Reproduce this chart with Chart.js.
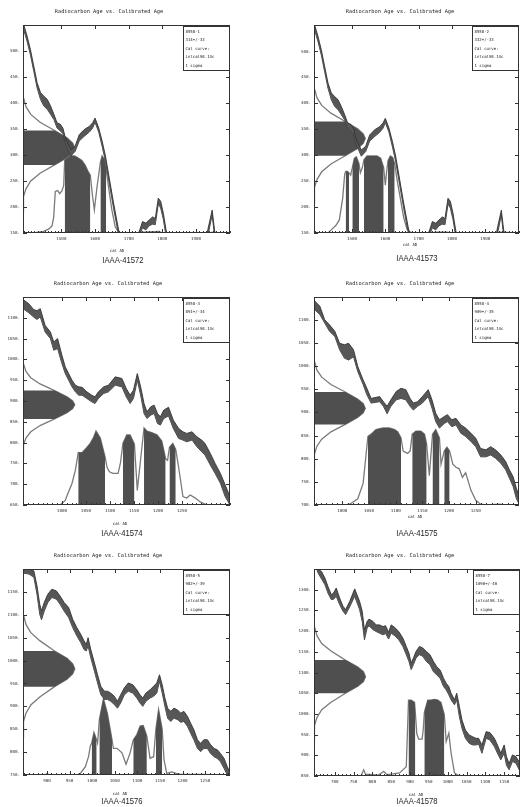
<!DOCTYPE html>
<html>
<head>
<meta charset="utf-8">
<script src="https://cdn.jsdelivr.net/npm/chart.js@4.4.1/dist/chart.umd.min.js"></script>
<style>
  html, body { margin: 0; padding: 0; background: #fff; width: 521px; height: 807px; overflow: hidden; }
  #sheet { position: relative; width: 521px; height: 807px; }
  #sheet canvas { position: absolute; }
  .lab {
    position: absolute; white-space: nowrap; color: #222;
    font: 9px 'Liberation Sans', Arial, sans-serif;
    transform: translate(-50%, -50%) scaleX(0.85);
  }
</style>
</head>
<body>
<div id="sheet"></div>
<script>
// ── DATA ───────────────────────────────────────────────────────────────────

const samples = ['8558-1', '8558-2', '8558-3', '8558-4', '8558-5', '8558-7'];
const ages    = ['314+/-33', '332+/-33', '891+/-34', '909+/-35', '982+/-39', '1090+/-40'];
const labIds  = ['IAAA-41572', 'IAAA-41573', 'IAAA-41574', 'IAAA-41575', 'IAAA-41576', 'IAAA-41578'];

// axis limits (cal AD / BP)
const xMins = [1386, 1386, 919, 947, 847, 645];
const xMaxs = [2001, 2001, 1350, 1331, 1305, 1192];
const yMins = [150, 150, 650, 700, 750, 850];
const yMaxs = [550, 551, 1150, 1149, 1200, 1350];

const xTicksA = [1500, 1600, 1700, 1800, 1900];
const xTicksB = [1000, 1050, 1100, 1150, 1200, 1250];
const xTicksC = [900, 950, 1000, 1050, 1100, 1150, 1200, 1250];
const xTicksD = [700, 750, 800, 850, 900, 950, 1000, 1050, 1100, 1150];
const yTicksA = [150, 200, 250, 300, 350, 400, 450, 500];
const yTicks3 = [650, 700, 750, 800, 850, 900, 950, 1000, 1050, 1100];
const yTicks4 = [700, 750, 800, 850, 900, 950, 1000, 1050, 1100];
const yTicks5 = [750, 800, 850, 900, 950, 1000, 1050, 1100, 1150];
const yTicks6 = [850, 900, 950, 1000, 1050, 1100, 1150, 1200, 1250, 1300];

// calibration curve band (upper / lower edge), panels 1 and 2 share this stretch
const calAX  = [1380,1388,1398,1408,1418,1428,1438,1448,1458,1468,1478,1487,1497,1505,1513,1528,1541,1553,1568,1583,1593,1600,1611,1621,1631,1643,1655,1668,1680,1705,1733,1741,1751,1761,1771,1779,1788,1795,1803,1811,1823,1925,1935,1948,1955,1968];
const calAHi = [575,551,529,503,471,439,420,413,407,394,378,362,359,351,330,310,317,339,349,355,362,371,352,327,298,253,208,163,125,110,156,172,169,175,181,178,217,211,188,156,120,110,156,194,156,110];
const calALo = [560,541,519,493,461,429,407,394,388,378,368,352,346,341,320,298,307,327,336,344,352,363,344,317,288,243,198,153,115,100,146,160,156,164,167,166,206,198,176,144,110,100,144,185,144,100];

const cal3X  = [915,919,931,941,948,955,965,976,983,991,1000,1007,1014,1021,1028,1035,1042,1052,1062,1069,1076,1087,1097,1111,1125,1134,1142,1149,1157,1164,1171,1177,1185,1192,1199,1205,1212,1222,1232,1243,1252,1260,1271,1281,1291,1298,1309,1319,1330,1340,1350,1356];
const cal3Hi = [1150,1144,1134,1120,1117,1122,1082,1066,1042,1050,1010,982,966,950,938,934,933,922,914,910,922,934,938,958,954,930,914,926,966,934,894,874,886,890,870,862,878,885,854,834,826,822,826,814,806,798,774,750,726,698,670,655];
const cal3Lo = [1128,1122,1112,1102,1096,1102,1066,1050,1022,1026,990,966,950,934,922,914,914,906,898,894,906,918,922,938,934,910,894,906,950,914,870,858,866,870,846,842,858,864,834,810,806,802,806,790,778,770,746,726,702,670,650,635];

const cal4X  = [940,947,958,967,976,986,995,1004,1012,1021,1029,1039,1046,1054,1070,1077,1084,1091,1101,1110,1119,1127,1133,1141,1150,1161,1168,1175,1182,1191,1197,1205,1213,1222,1231,1241,1250,1259,1269,1278,1287,1297,1306,1313,1320,1326,1332,1337];
const cal4Hi = [1155,1142,1129,1100,1089,1075,1049,1046,1049,1035,999,970,952,930,934,923,913,927,945,952,949,930,920,923,934,949,927,898,884,891,895,884,887,873,866,855,844,822,819,826,819,808,794,776,761,736,718,690];
const cal4Lo = [1140,1123,1111,1093,1075,1064,1035,1017,1013,1020,988,960,938,920,923,913,897,913,927,930,927,913,905,913,920,934,909,880,866,876,880,869,873,855,848,837,826,804,804,808,801,790,776,758,740,714,700,675];

const cal5X  = [840,847,860,871,878,884,888,894,902,911,921,929,938,948,957,966,975,982,987,991,997,1005,1012,1019,1027,1034,1041,1049,1056,1063,1071,1080,1090,1099,1106,1112,1119,1128,1136,1143,1149,1155,1161,1167,1174,1181,1189,1196,1203,1211,1218,1225,1233,1240,1247,1255,1262,1270,1277,1284,1292,1299,1306];
const cal5Hi = [1210,1201,1200,1196,1163,1123,1109,1127,1145,1156,1152,1141,1127,1116,1090,1072,1057,1043,1035,1050,1024,995,969,944,933,933,929,922,911,925,940,951,947,936,925,918,929,936,944,951,969,947,918,896,889,896,892,885,889,878,863,849,827,819,827,827,816,808,805,797,786,768,754];
const cal5Lo = [1195,1191,1189,1182,1145,1101,1089,1108,1127,1138,1134,1123,1108,1094,1072,1054,1039,1024,1021,1032,1006,977,951,926,915,915,911,904,896,907,925,933,929,918,907,900,911,918,922,929,955,929,900,874,867,874,871,865,867,856,841,827,808,801,808,808,797,790,786,779,764,750,735];

const cal6X  = [650,656,665,674,682,691,697,704,713,722,729,740,753,766,773,779,786,791,802,810,819,828,835,843,850,859,870,881,890,897,903,909,916,925,934,943,953,962,971,980,989,996,1003,1009,1018,1024,1031,1038,1047,1057,1066,1075,1082,1091,1102,1112,1124,1132,1141,1150,1156,1163,1172,1181,1192,1198];
const cal6Hi = [1365,1350,1344,1328,1308,1288,1292,1304,1280,1260,1252,1272,1302,1272,1248,1203,1223,1229,1223,1215,1215,1211,1213,1197,1215,1209,1199,1183,1163,1147,1123,1135,1151,1163,1159,1151,1143,1127,1114,1106,1086,1074,1066,1050,1034,1050,1018,985,961,949,945,941,941,925,957,955,941,925,905,925,897,880,901,897,881,873];
const cal6Lo = [1355,1340,1326,1312,1292,1276,1277,1284,1264,1248,1240,1259,1284,1252,1223,1179,1207,1213,1203,1199,1195,1191,1194,1181,1195,1189,1179,1163,1143,1127,1107,1119,1135,1143,1139,1127,1119,1102,1094,1086,1066,1058,1046,1034,1022,1034,993,965,941,929,925,925,927,905,941,937,921,905,889,905,876,865,885,881,861,852];

// measured radiocarbon age: relative density at each BP value
const gaussDensity = [0,0.002,0.017,0.057,0.15,0.33,0.61,0.85,0.96,1.0,0.96,0.85,0.61,0.33,0.15,0.057,0.017,0.002,0];
const gauss1BP = [190,200,220,235,250,265,281,295,305,314,323,333,347,363,378,393,408,428,440];
const gauss2BP = [208,218,238,253,268,283,299,313,323,332,341,351,365,381,396,411,426,446,458];
const gauss3BP = [765,775,795,811,826,841,857,872,882,891,900,910,925,941,956,971,987,1007,1019];
const gauss4BP = [780,790,810,827,842,858,874,889,899,909,919,929,944,960,976,991,1008,1028,1040];
const gauss5BP = [832,845,867,885,903,921,943,959,971,982,993,1005,1021,1043,1061,1079,1097,1119,1132];
const gauss6BP = [937,950,972,991,1010,1028,1050,1067,1078,1090,1102,1113,1130,1152,1170,1189,1208,1230,1243];
const sigmas = [[281, 347], [299, 365], [857, 925], [874, 944], [943, 1021], [1050, 1130]];

// calibrated age probability (relative)
const prob1X = [1386,1418,1447,1462,1472,1477,1482,1489,1495,1502,1507,1510,1517,1527,1539,1548,1561,1571,1578,1586,1592,1598,1606,1616,1621,1628,1633,1640,1650,1660,1670,1680,1735,1745,1790,1800,1940,1948,1956,2001];
const prob1P = [0,0,0.02,0.05,0.09,0.2,0.54,0.55,0.51,0.55,0.62,0.96,0.99,1.0,1.0,0.98,0.94,0.88,0.81,0.75,0.5,0.3,0.6,0.92,1.0,0.95,0.82,0.6,0.3,0.08,0.01,0,0,0.01,0.02,0,0,0.01,0,0];
const prob2X = [1386,1428,1440,1452,1462,1472,1478,1481,1486,1491,1496,1501,1507,1513,1521,1525,1531,1536,1545,1560,1575,1586,1595,1600,1604,1608,1615,1622,1628,1635,1645,1655,1665,1675,1685,1740,1750,1785,1795,1935,1945,2001];
const prob2P = [0,0,0.05,0.1,0.17,0.45,0.76,0.8,0.8,0.78,0.75,0.85,0.97,0.99,0.9,0.78,0.85,0.95,1.0,1.0,1.0,0.97,0.85,0.62,0.8,0.94,1.0,0.98,0.9,0.7,0.45,0.2,0.05,0.01,0,0,0.01,0.01,0,0,0.01,0];
const prob3X = [919,996,1007,1010,1021,1028,1034,1042,1051,1059,1066,1071,1080,1090,1094,1099,1106,1117,1122,1127,1135,1142,1151,1157,1164,1171,1177,1187,1198,1208,1216,1220,1224,1231,1237,1243,1252,1260,1267,1278,1288,1302,1350];
const prob3P = [0,0,0.06,0.11,0.28,0.45,0.68,0.68,0.74,0.80,0.88,0.96,0.87,0.62,0.49,0.43,0.41,0.41,0.55,0.80,0.91,0.91,0.79,0.19,0.6,1.0,0.96,0.94,0.91,0.83,0.60,0.58,0.75,0.80,0.72,0.49,0.11,0.09,0.13,0.09,0.04,0,0];
const prob4X = [947,1004,1014,1029,1039,1044,1048,1054,1063,1076,1088,1098,1104,1110,1114,1122,1127,1131,1138,1147,1154,1158,1163,1169,1175,1182,1185,1191,1196,1201,1207,1213,1219,1225,1231,1241,1250,1259,1270,1294,1303,1331];
const prob4P = [0,0,0.01,0.08,0.28,0.62,0.89,0.92,0.98,1.0,1.0,0.98,0.95,0.87,0.70,0.67,0.70,0.92,0.96,0.96,0.92,0.79,0.38,0.92,0.98,0.87,0.53,0.70,0.75,0.70,0.53,0.49,0.47,0.36,0.42,0.19,0.06,0.01,0,0.01,0,0];
const prob5X = [847,895,900,905,965,974,985,992,996,999,1004,1010,1012,1016,1025,1034,1044,1047,1055,1066,1075,1084,1091,1099,1106,1113,1121,1128,1136,1141,1147,1155,1159,1165,1176,1186,1194,1305];
const prob5P = [0,0,0.02,0,0,0.02,0.11,0.24,0.38,0.42,0.56,0.46,0.42,0.73,1.0,0.8,0.46,0.35,0.35,0.29,0.14,0.29,0.46,0.53,0.64,0.65,0.51,0.22,0.24,0.6,0.86,0.6,0.2,0.02,0.04,0.02,0.01,0];
const prob6X = [645,770,777,782,793,815,824,830,838,846,872,881,890,896,903,912,914,918,923,932,935,938,947,956,965,974,982,991,996,1003,1009,1018,1031,1192];
const prob6P = [0,0,0.08,0.02,0.02,0.01,0.04,0.06,0.02,0.02,0.04,0.08,0.12,0.99,0.99,0.96,0.83,0.55,0.48,0.48,0.6,0.83,0.99,0.99,1.0,0.99,0.96,0.8,0.45,0.56,0.3,0.04,0,0];

// 1 sigma calibrated ranges (cal AD)
const ranges1 = [[1510, 1586], [1616, 1633]];
const ranges2 = [[1481, 1491], [1501, 1521], [1536, 1595], [1608, 1628]];
const ranges3 = [[1034, 1090], [1127, 1151], [1171, 1216], [1224, 1237]];
const ranges4 = [[1048, 1110], [1131, 1158], [1169, 1182], [1191, 1201]];
const ranges5 = [[999, 1010], [1016, 1044], [1091, 1121], [1141, 1155]];
const ranges6 = [[896, 914], [938, 991]];

// ── LAYOUT (page px: plot box and text anchors) ────────────────────────────

const LAYOUT = [
  { l: 23,  t: 25,  r: 230, b: 233, titleX: 109, calX: 117, calY: 251, labX: 123, labY: 260 },
  { l: 314, t: 25,  r: 519, b: 233, titleX: 400, calX: 410, calY: 245, labX: 417, labY: 258 },
  { l: 23,  t: 297, r: 230, b: 505, titleX: 108, calX: 120, calY: 524, labX: 122, labY: 533 },
  { l: 314, t: 297, r: 519, b: 505, titleX: 400, calX: 415, calY: 517, labX: 417, labY: 533 },
  { l: 23,  t: 569, r: 230, b: 775, titleX: 108, calX: 120, calY: 794, labX: 122, labY: 801 },
  { l: 314, t: 569, r: 520, b: 776, titleX: 400, calX: 416, calY: 795, labX: 417, labY: 801 },
];
const AXIS_W = 22, AXIS_H = 26, PAD_TOP = 20, PAD_RIGHT = 6;

const PANELS = [
  { xTicks: xTicksA, yTicks: yTicksA, calX: calAX, calHi: calAHi, calLo: calALo, gaussBP: gauss1BP, probX: prob1X, probP: prob1P, ranges: ranges1 },
  { xTicks: xTicksA, yTicks: yTicksA, calX: calAX, calHi: calAHi, calLo: calALo, gaussBP: gauss2BP, probX: prob2X, probP: prob2P, ranges: ranges2 },
  { xTicks: xTicksB, yTicks: yTicks3, calX: cal3X, calHi: cal3Hi, calLo: cal3Lo, gaussBP: gauss3BP, probX: prob3X, probP: prob3P, ranges: ranges3 },
  { xTicks: xTicksB, yTicks: yTicks4, calX: cal4X, calHi: cal4Hi, calLo: cal4Lo, gaussBP: gauss4BP, probX: prob4X, probP: prob4P, ranges: ranges4 },
  { xTicks: xTicksC, yTicks: yTicks5, calX: cal5X, calHi: cal5Hi, calLo: cal5Lo, gaussBP: gauss5BP, probX: prob5X, probP: prob5P, ranges: ranges5 },
  { xTicks: xTicksD, yTicks: yTicks6, calX: cal6X, calHi: cal6Hi, calLo: cal6Lo, gaussBP: gauss6BP, probX: prob6X, probP: prob6P, ranges: ranges6 },
];

const DARK = '#4f4f4f';
const LINE = '#7a7a7a';
const MONO = 'DejaVu Sans Mono';

// ── PLUGIN: frame, inward ticks, legend box, title, axis caption ───────────

const panelDecor = {
  id: 'panelDecor',
  afterDraw(chart, args, o) {
    const { ctx, chartArea: a, scales } = chart;
    const sx = scales.x, sy = scales.y;
    ctx.save();
    ctx.strokeStyle = '#333';
    ctx.lineWidth = 1;
    ctx.beginPath();
    sx.ticks.forEach(t => {
      const px = Math.round(sx.getPixelForValue(t.value)) + 0.5;
      ctx.moveTo(px, a.bottom); ctx.lineTo(px, a.bottom - 4);
      ctx.moveTo(px, a.top);    ctx.lineTo(px, a.top + 4);
    });
    for (let v = Math.ceil(sx.min / 10) * 10; v <= sx.max; v += 10) {
      const px = Math.round(sx.getPixelForValue(v)) + 0.5;
      ctx.moveTo(px, a.bottom); ctx.lineTo(px, a.bottom - 2);
    }
    sy.ticks.forEach(t => {
      const py = Math.round(sy.getPixelForValue(t.value)) + 0.5;
      ctx.moveTo(a.left, py);  ctx.lineTo(a.left + 4, py);
      ctx.moveTo(a.right, py); ctx.lineTo(a.right - 4, py);
    });
    ctx.stroke();
    ctx.strokeRect(a.left + 0.5, a.top + 0.5, a.width - 1, a.height - 1);

    // legend box in the top right corner
    const bw = 47, bh = 44;
    ctx.fillStyle = '#fff';
    ctx.fillRect(a.right - bw, a.top + 1, bw - 1, bh);
    ctx.strokeRect(a.right - bw + 0.5, a.top + 1.5, bw - 1, bh);
    ctx.fillStyle = '#222';
    ctx.font = `4px ${MONO}`;
    ctx.textAlign = 'left';
    ctx.textBaseline = 'middle';
    o.legend.forEach((s, k) => ctx.fillText(s, a.right - bw + 2.5, a.top + 7 + k * 8.4));

    ctx.textAlign = 'center';
    ctx.font = `5.3px ${MONO}`;
    ctx.fillText('Radiocarbon Age vs. Calibrated Age', o.titleX, o.titleY);
    ctx.font = `4px ${MONO}`;
    ctx.fillText('cal AD', o.calX, o.calY);
    ctx.restore();
  },
};

// ── BUILD ──────────────────────────────────────────────────────────────────

const sheet = document.getElementById('sheet');

function buildPanel(i) {
  const P = PANELS[i], L = LAYOUT[i];
  const left = L.l - AXIS_W, top = L.t - PAD_TOP;

  const canvas = document.createElement('canvas');
  canvas.width  = L.r - L.l + AXIS_W + PAD_RIGHT;
  canvas.height = L.b - L.t + PAD_TOP + AXIS_H;
  canvas.style.left = left + 'px';
  canvas.style.top  = top + 'px';
  sheet.appendChild(canvas);

  const lab = document.createElement('div');
  lab.className = 'lab';
  lab.textContent = labIds[i];
  lab.style.left = L.labX + 'px';
  lab.style.top  = L.labY + 'px';
  sheet.appendChild(lab);

  const pts = (xs, ys) => xs.map((x, k) => ({ x, y: ys[k] }));
  const sig = sigmas[i];
  const gauss = P.gaussBP.map((bp, k) => ({ x: gaussDensity[k], y: bp }));
  const gaussShape = [{ x: 0, y: sig[0] }, ...gauss.filter(p => p.y >= sig[0] && p.y <= sig[1]), { x: 0, y: sig[1] }];
  const prob = pts(P.probX, P.probP);

  const base = { pointRadius: 0, tension: 0, borderWidth: 0 };
  const datasets = [
    { ...base, data: pts(P.calX, P.calHi), fill: '+1', backgroundColor: '#575757', borderColor: '#333', borderWidth: 0.9 },
    { ...base, data: pts(P.calX, P.calLo), fill: false, borderColor: '#333', borderWidth: 0.9 },
    { ...base, data: gaussShape, xAxisID: 'xg', fill: 'shape', backgroundColor: DARK },
    { ...base, data: gauss, xAxisID: 'xg', fill: false, borderColor: LINE, borderWidth: 1.3 },
    ...P.ranges.map(r => ({
      ...base, yAxisID: 'yp', fill: 'origin', backgroundColor: DARK,
      data: prob.filter(p => p.x >= r[0] && p.x <= r[1]),
    })),
    { ...base, data: prob, yAxisID: 'yp', fill: false, borderColor: LINE, borderWidth: 1.3 },
  ];

  const tickFont = { family: MONO, size: 4.2 };
  new Chart(canvas.getContext('2d'), {
    type: 'line',
    data: { datasets },
    plugins: [panelDecor],
    options: {
      responsive: false,
      animation: false,
      events: [],
      layout: { padding: { top: PAD_TOP, right: PAD_RIGHT, left: 0, bottom: 0 } },
      plugins: {
        legend: { display: false },
        tooltip: { enabled: false },
        panelDecor: {
          legend: [samples[i], ages[i], 'Cal curve:', 'intcal98.14c', '1 sigma'],
          titleX: L.titleX - left, titleY: PAD_TOP - 13,
          calX: L.calX - left, calY: L.calY - top,
        },
      },
      scales: {
        x: {
          type: 'linear', min: xMins[i], max: xMaxs[i],
          afterFit: s => { s.height = AXIS_H; },
          afterBuildTicks: s => { s.ticks = P.xTicks.map(v => ({ value: v })); },
          ticks: { font: tickFont, color: '#333', padding: 3, autoSkip: false, maxRotation: 0, callback: v => String(v) },
          grid: { display: false, drawTicks: false },
          border: { display: false },
        },
        y: {
          type: 'linear', position: 'left', min: yMins[i], max: yMaxs[i],
          afterFit: s => { s.width = AXIS_W; },
          afterBuildTicks: s => { s.ticks = P.yTicks.map(v => ({ value: v })); },
          ticks: { font: tickFont, color: '#333', padding: 3, autoSkip: false, callback: v => v + '.' },
          grid: { display: false, drawTicks: false },
          border: { display: false },
        },
        xg: { type: 'linear', display: false, min: 0, max: 4 },
        yp: { type: 'linear', display: false, min: 0, max: 2.7 },
      },
    },
  });
}

PANELS.forEach((p, i) => buildPanel(i));
</script>
</body>
</html>
